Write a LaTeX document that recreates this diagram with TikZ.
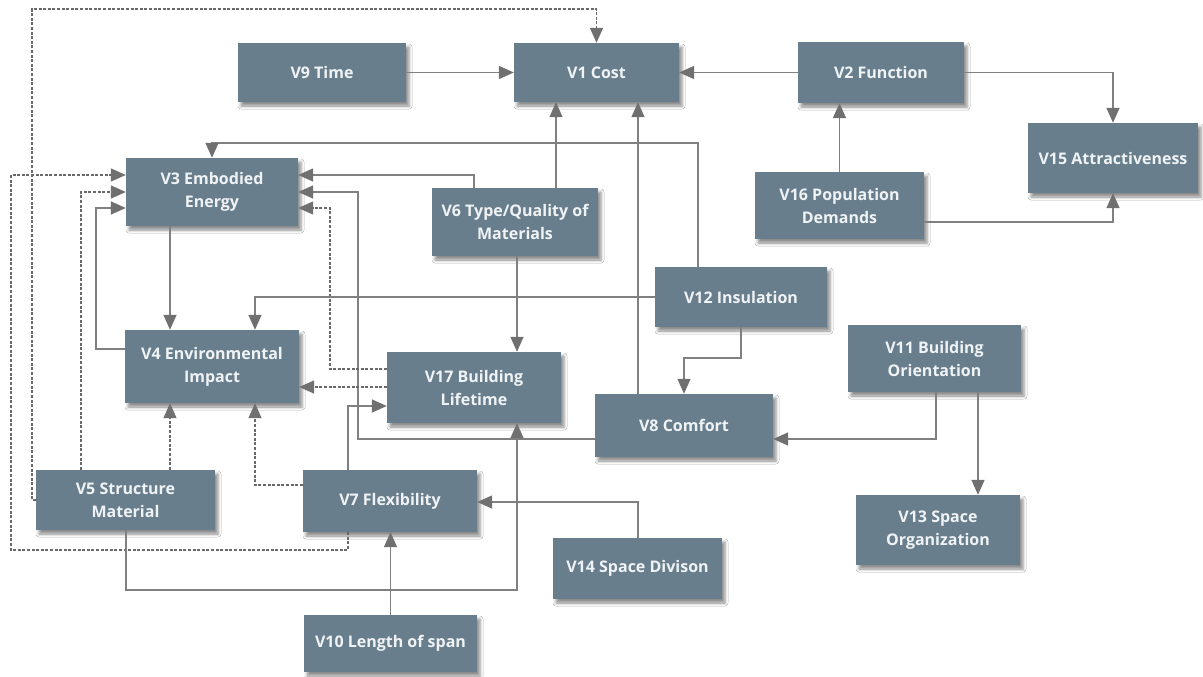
\documentclass[tikz,border=0pt]{standalone}
\usepackage{fontspec}
\setmainfont{Open Sans}
\usetikzlibrary{arrows.meta,shadows.blur}
\definecolor{boxfill}{RGB}{104,126,140}
\definecolor{boxtext}{RGB}{240,243,245}
\definecolor{linegray}{RGB}{128,128,128}
\definecolor{tipgray}{RGB}{112,112,112}
\definecolor{dashgray}{RGB}{105,105,105}
\tikzset{
  var/.style={rectangle, fill=boxfill, text=boxtext, inner sep=0pt,
    align=center, font=\fontsize{16}{23}\selectfont\bfseries,
    blur shadow={shadow xshift=3pt, shadow yshift=-4pt, shadow blur radius=3pt, shadow opacity=45}},
  conn/.style={draw=linegray, line width=1.5pt,
    -{Triangle[length=15pt,width=13pt,fill=tipgray,color=tipgray]}},
  dconn/.style={draw=dashgray, line width=1.4pt, dash pattern=on 3pt off 1.6pt,
    -{Triangle[length=15pt,width=13pt,fill=tipgray,color=tipgray]}}
}
\begin{document}
\begin{tikzpicture}[x=1pt,y=-1pt]
\useasboundingbox[fill=white] (0,0) rectangle (1203,677);

% variables
\node[var, minimum width=165pt, minimum height=59pt] (v1)  at (596.5,72.5) {V1 Cost};
\node[var, minimum width=168pt, minimum height=59pt] (v9)  at (322,72.5)   {V9 Time};
\node[var, minimum width=166pt, minimum height=61pt] (v2)  at (881,72.5)   {V2 Function};
\node[var, minimum width=170pt, minimum height=70pt] (v15) at (1113,158)   {V15 Attractiveness};
\node[var, minimum width=172pt, minimum height=68pt] (v3)  at (212,192)    {V3 Embodied\\Energy};
\node[var, minimum width=166pt, minimum height=68pt] (v6)  at (515,222)    {V6 Type/Quality of\\Materials};
\node[var, minimum width=169pt, minimum height=67pt] (v16) at (839.5,205.5) {V16 Population\\Demands};
\node[var, minimum width=172pt, minimum height=60pt] (v12) at (741,297)    {V12 Insulation};
\node[var, minimum width=174pt, minimum height=73pt] (v4)  at (212,366.5)  {V4 Environmental\\Impact};
\node[var, minimum width=174pt, minimum height=71pt] (v17) at (474,387.5)  {V17 Building\\Lifetime};
\node[var, minimum width=178pt, minimum height=63pt] (v8)  at (684,425.5)  {V8 Comfort};
\node[var, minimum width=173pt, minimum height=67pt] (v11) at (934.5,358.5) {V11 Building\\Orientation};
\node[var, minimum width=164pt, minimum height=70pt] (v13) at (938,530)    {V13 Space\\Organization};
\node[var, minimum width=179pt, minimum height=60pt] (v5)  at (125.5,500)  {V5 Structure\\Material};
\node[var, minimum width=174pt, minimum height=62pt] (v7)  at (390,501)    {V7 Flexibility};
\node[var, minimum width=169pt, minimum height=61pt] (v14) at (637.5,568.5) {V14 Space Divison};
\node[var, minimum width=173pt, minimum height=57pt] (v10) at (390.5,643.5) {V10 Length of span};

% influences on cost, function and attractiveness
\draw[conn] (v9) -- (v1);
\draw[conn] (v2) -- (v1);
\draw[dconn] (v5.west) -| (32,9) -| (v1.north);
\draw[conn] (556,0 |- v6.north) -- (556,0 |- v1.south);
\draw[conn] (638,0 |- v8.north) -- (638,0 |- v1.south);
\draw[conn] (v2.east) -| (v15.north);
\draw[conn] (v16.north) -- (v16.north |- v2.south);
\draw[conn] (v16.east |- 0,222) -| (v15.south);

% influences on embodied energy
\draw[conn] (698,0 |- v12.north) -- (698,143) -| (v3.north);
\draw[conn] (474,0 |- v6.north) |- (v3.east |- 0,175);
\draw[conn] (v8.west |- 0,439) -- (358,439) |- (v3.east |- 0,192);
\draw[dconn] (v17.west |- 0,369) -- (330,369) |- (v3.east |- 0,208);
\draw[dconn] (348,0 |- v7.south) |- (11,550) |- (v3.west |- 0,175);
\draw[dconn] (81,0 |- v5.north) |- (v3.west |- 0,192);
\draw[conn] (v4.west |- 0,349) -- (96,349) |- (v3.west |- 0,208);

% influences on environmental impact
\draw[conn] (170,0 |- v3.south) -- (170,0 |- v4.north);
\draw[conn] (v12.west) -| (255,0 |- v4.north);
\draw[dconn] (v17.west |- 0,387) -- (v4.east |- 0,387);
\draw[dconn] (170,0 |- v5.north) -- (170,0 |- v4.south);
\draw[dconn] (v7.west |- 0,485) -| (255,0 |- v4.south);

% influences on building lifetime
\draw[conn] (517,0 |- v6.south) -- (517,0 |- v17.north);
\draw[conn] (348,0 |- v7.north) |- (v17.west |- 0,406);
\draw[conn] (126,0 |- v5.south) -- (126,590) -| (517,0 |- v17.south);

% comfort, orientation and flexibility
\draw[conn] (v12.south) |- (684,358) -- (v8.north);
\draw[conn] (936,0 |- v11.south) |- (v8.east |- 0,439);
\draw[conn] (978,0 |- v11.south) -- (978,0 |- v13.north);
\draw[conn] (v10.north) -- (v10.north |- v7.south);
\draw[conn] (638,0 |- v14.north) |- (v7.east |- 0,502);
\end{tikzpicture}
\end{document}
